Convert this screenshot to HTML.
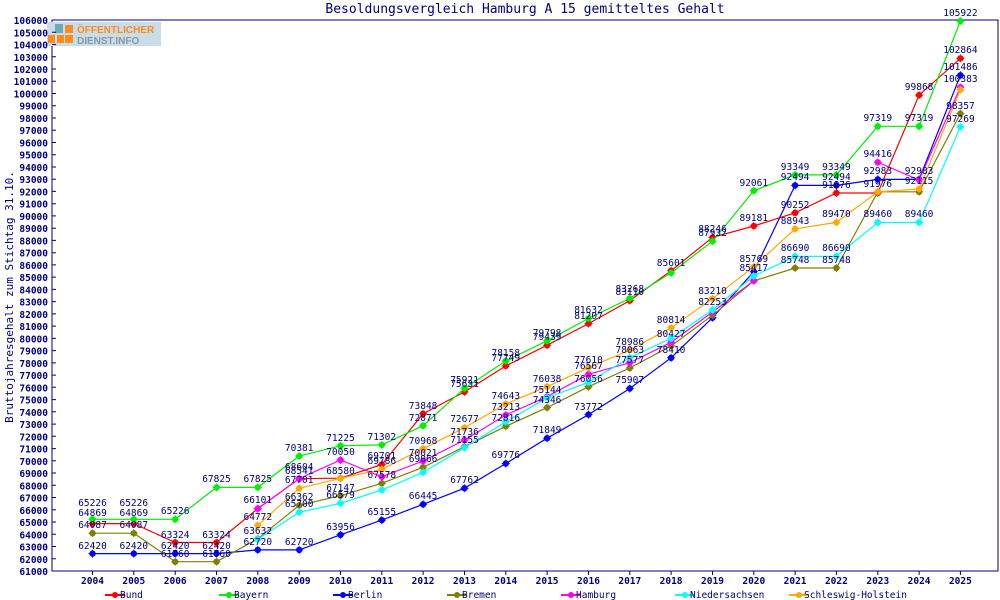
<!DOCTYPE html>
<html><head><meta charset="utf-8"><style>
body{margin:0;background:#fff;}
svg{display:block;font-family:"DejaVu Sans Mono","Liberation Mono",monospace;}
.yl{font-size:9.5px;font-weight:bold;fill:#000080;text-anchor:end}
.xl{font-size:9.5px;font-weight:bold;fill:#000080;text-anchor:middle}
.v{font-size:9.5px;fill:#000080;text-anchor:middle}
.lg{font-size:9.5px;fill:#000080}
polyline{fill:none;stroke-width:1.2}
</style></head><body>
<svg width="1000" height="600" viewBox="0 0 1000 600" xmlns="http://www.w3.org/2000/svg">
<defs>
<marker id="mr" markerWidth="9" markerHeight="9" refX="4.5" refY="4.5" markerUnits="userSpaceOnUse"><path d="M4.5 0L5.7 3L9 4.5L5.7 6L4.5 9L3.3 6L0 4.5L3.3 3Z" fill="#ff0000"/><circle cx="4.5" cy="4.5" r="3.2" fill="#ff0000"/></marker>
<marker id="mg" markerWidth="9" markerHeight="9" refX="4.5" refY="4.5" markerUnits="userSpaceOnUse"><path d="M4.5 0L5.7 3L9 4.5L5.7 6L4.5 9L3.3 6L0 4.5L3.3 3Z" fill="#00ee00"/><circle cx="4.5" cy="4.5" r="3.2" fill="#00ee00"/></marker>
<marker id="mb" markerWidth="9" markerHeight="9" refX="4.5" refY="4.5" markerUnits="userSpaceOnUse"><path d="M4.5 0L5.7 3L9 4.5L5.7 6L4.5 9L3.3 6L0 4.5L3.3 3Z" fill="#0000ff"/><circle cx="4.5" cy="4.5" r="3.2" fill="#0000ff"/></marker>
<marker id="mo" markerWidth="9" markerHeight="9" refX="4.5" refY="4.5" markerUnits="userSpaceOnUse"><path d="M4.5 0L5.7 3L9 4.5L5.7 6L4.5 9L3.3 6L0 4.5L3.3 3Z" fill="#808000"/><circle cx="4.5" cy="4.5" r="3.2" fill="#808000"/></marker>
<marker id="mm" markerWidth="9" markerHeight="9" refX="4.5" refY="4.5" markerUnits="userSpaceOnUse"><path d="M4.5 0L5.7 3L9 4.5L5.7 6L4.5 9L3.3 6L0 4.5L3.3 3Z" fill="#ff00ff"/><circle cx="4.5" cy="4.5" r="3.2" fill="#ff00ff"/></marker>
<marker id="mc" markerWidth="9" markerHeight="9" refX="4.5" refY="4.5" markerUnits="userSpaceOnUse"><path d="M4.5 0L5.7 3L9 4.5L5.7 6L4.5 9L3.3 6L0 4.5L3.3 3Z" fill="#00ffff"/><circle cx="4.5" cy="4.5" r="3.2" fill="#00ffff"/></marker>
<marker id="my" markerWidth="9" markerHeight="9" refX="4.5" refY="4.5" markerUnits="userSpaceOnUse"><path d="M4.5 0L5.7 3L9 4.5L5.7 6L4.5 9L3.3 6L0 4.5L3.3 3Z" fill="#ffaa00"/><circle cx="4.5" cy="4.5" r="3.2" fill="#ffaa00"/></marker>
</defs>
<text x="525" y="13" style="font-size:13px;fill:#000080" text-anchor="middle">Besoldungsvergleich Hamburg A 15 gemitteltes Gehalt</text>
<text transform="translate(13,297) rotate(-90)" style="font-size:11px;fill:#000080" text-anchor="middle">Bruttojahresgehalt zum Stichtag 31.10.</text>
<path d="M52 20H998V571H52Z" fill="none" stroke="#000080" stroke-width="1"/>
<rect x="47" y="22" width="114" height="24" fill="#c9dde8"/>
<rect x="55" y="24" width="8" height="9" fill="#6aaabb"/><rect x="65" y="25" width="8" height="8" fill="#ff8a1e"/><rect x="48" y="35" width="7" height="8" fill="#ff8a1e"/><rect x="57" y="35" width="7" height="8" fill="#ff8a1e"/><rect x="65" y="35" width="8" height="8" fill="#ff8a1e"/>
<text x="77" y="33" style="font-family:'Liberation Sans',sans-serif;font-size:10px;font-weight:bold;fill:#ff8a1e">ÖFFENTLICHER</text>
<text x="77" y="44" style="font-family:'Liberation Sans',sans-serif;font-size:10px;font-weight:bold;fill:#8899a5">DIENST.INFO</text>
<g stroke="#000080" stroke-width="1">
<path d="M52 571h4M52 558.8h4M52 546.5h4M52 534.3h4M52 522h4M52 509.8h4M52 497.5h4M52 485.3h4M52 473h4M52 460.8h4M52 448.6h4M52 436.3h4M52 424.1h4M52 411.8h4M52 399.6h4M52 387.3h4M52 375.1h4M52 362.9h4M52 350.6h4M52 338.4h4M52 326.1h4M52 313.9h4M52 301.6h4M52 289.4h4M52 277.1h4M52 264.9h4M52 252.7h4M52 240.4h4M52 228.2h4M52 215.9h4M52 203.7h4M52 191.4h4M52 179.2h4M52 167h4M52 154.7h4M52 142.5h4M52 130.2h4M52 118h4M52 105.7h4M52 93.5h4M52 81.2h4M52 69h4M52 56.8h4M52 44.5h4M52 32.3h4M52 20h4"/>
<path d="M92.5 571v4M133.8 571v4M175.2 571v4M216.5 571v4M257.8 571v4M299.2 571v4M340.5 571v4M381.8 571v4M423.1 571v4M464.5 571v4M505.8 571v4M547.1 571v4M588.5 571v4M629.8 571v4M671.1 571v4M712.5 571v4M753.8 571v4M795.1 571v4M836.4 571v4M877.8 571v4M919.1 571v4M960.4 571v4"/>
</g>
<g class="yl">
<text x="48" y="575">61000</text><text x="48" y="562.8">62000</text><text x="48" y="550.5">63000</text><text x="48" y="538.3">64000</text><text x="48" y="526">65000</text><text x="48" y="513.8">66000</text><text x="48" y="501.5">67000</text><text x="48" y="489.3">68000</text><text x="48" y="477">69000</text><text x="48" y="464.8">70000</text><text x="48" y="452.6">71000</text><text x="48" y="440.3">72000</text><text x="48" y="428.1">73000</text><text x="48" y="415.8">74000</text><text x="48" y="403.6">75000</text><text x="48" y="391.3">76000</text><text x="48" y="379.1">77000</text><text x="48" y="366.9">78000</text><text x="48" y="354.6">79000</text><text x="48" y="342.4">80000</text><text x="48" y="330.1">81000</text><text x="48" y="317.9">82000</text><text x="48" y="305.6">83000</text><text x="48" y="293.4">84000</text><text x="48" y="281.1">85000</text><text x="48" y="268.9">86000</text><text x="48" y="256.7">87000</text><text x="48" y="244.4">88000</text><text x="48" y="232.2">89000</text><text x="48" y="219.9">90000</text><text x="48" y="207.7">91000</text><text x="48" y="195.4">92000</text><text x="48" y="183.2">93000</text><text x="48" y="171">94000</text><text x="48" y="158.7">95000</text><text x="48" y="146.5">96000</text><text x="48" y="134.2">97000</text><text x="48" y="122">98000</text><text x="48" y="109.7">99000</text><text x="48" y="97.5">100000</text><text x="48" y="85.2">101000</text><text x="48" y="73">102000</text><text x="48" y="60.8">103000</text><text x="48" y="48.5">104000</text><text x="48" y="36.3">105000</text><text x="48" y="24">106000</text>
</g>
<g class="xl">
<text x="92.5" y="584">2004</text><text x="133.8" y="584">2005</text><text x="175.2" y="584">2006</text><text x="216.5" y="584">2007</text><text x="257.8" y="584">2008</text><text x="299.2" y="584">2009</text><text x="340.5" y="584">2010</text><text x="381.8" y="584">2011</text><text x="423.1" y="584">2012</text><text x="464.5" y="584">2013</text><text x="505.8" y="584">2014</text><text x="547.1" y="584">2015</text><text x="588.5" y="584">2016</text><text x="629.8" y="584">2017</text><text x="671.1" y="584">2018</text><text x="712.5" y="584">2019</text><text x="753.8" y="584">2020</text><text x="795.1" y="584">2021</text><text x="836.4" y="584">2022</text><text x="877.8" y="584">2023</text><text x="919.1" y="584">2024</text><text x="960.4" y="584">2025</text>
</g>
<polyline stroke="#ff0000" marker-start="url(#mr)" marker-mid="url(#mr)" marker-end="url(#mr)" points="92.5,523.6 133.8,523.6 175.2,542.5 216.5,542.5 257.8,508.6 299.2,478.7 340.5,478.2 381.8,464.5 423.1,413.7 464.5,391.9 505.8,365.9 547.1,345.2 588.5,323.6 629.8,300.6 671.1,270.7 712.5,237.4 753.8,226 795.1,212.8 836.4,193 877.8,193 919.1,95.1 960.4,58.4"/>
<polyline stroke="#00ee00" marker-start="url(#mg)" marker-mid="url(#mg)" marker-end="url(#mg)" points="92.5,519.3 133.8,519.3 175.2,519.3 216.5,487.4 257.8,487.4 299.2,456.1 340.5,445.8 381.8,444.9 423.1,425.7 464.5,388.3 505.8,360.9 547.1,340.8 588.5,318.4 629.8,298.4 671.1,272.9 712.5,241.2 753.8,190.7 795.1,174.9 836.4,174.9 877.8,126.3 919.1,126.3 960.4,21"/>
<polyline stroke="#0000ff" marker-start="url(#mb)" marker-mid="url(#mb)" marker-end="url(#mb)" points="92.5,553.6 133.8,553.6 175.2,553.6 216.5,553.6 257.8,549.9 299.2,549.9 340.5,534.8 381.8,520.1 423.1,504.3 464.5,488.2 505.8,463.5 547.1,438.2 588.5,414.6 629.8,388.5 671.1,357.8 712.5,317.7 753.8,271.7 795.1,185.4 836.4,185.4 877.8,179.4 919.1,179.4 960.4,75.3"/>
<polyline stroke="#808000" marker-start="url(#mo)" marker-mid="url(#mo)" marker-end="url(#mo)" points="92.5,533.2 133.8,533.2 175.2,561.7 216.5,561.7 257.8,538.8 299.2,505.3 340.5,495.7 381.8,483.3 423.1,467.3 464.5,446.7 505.8,426.3 547.1,407.6 588.5,386.7 629.8,368 671.1,346 712.5,315.3 753.8,280.9 795.1,268 836.4,268 877.8,191.8 919.1,191.8 960.4,113.6"/>
<polyline stroke="#ff00ff" marker-start="url(#mm)" marker-mid="url(#mm)" marker-end="url(#mm)" points="257.8,508.7 299.2,478.7 340.5,460 381.8,476.7 423.1,461 464.5,440 505.8,415 547.1,396.7 588.5,374.3 629.8,362.7 671.1,342.3 712.5,312 753.8,280.7"/>
<polyline stroke="#ff00ff" marker-start="url(#mm)" marker-mid="url(#mm)" marker-end="url(#mm)" points="877.8,162.3 919.1,180 960.4,87.3"/>
<polyline stroke="#00ffff" marker-start="url(#mc)" marker-mid="url(#mc)" marker-end="url(#mc)" points="257.8,539.3 299.2,512.3 340.5,503.3 381.8,490 423.1,472.3 464.5,447.7 505.8,421.7 547.1,397.7 588.5,382.3 629.8,357.7 671.1,338.3 712.5,310 753.8,276 795.1,256.4 836.4,256.4 877.8,222.5 919.1,222.5 960.4,126.9"/>
<polyline stroke="#ffaa00" marker-start="url(#my)" marker-mid="url(#my)" marker-end="url(#my)" points="257.8,525.3 299.2,488.3 340.5,478.3 381.8,469.3 423.1,448.7 464.5,427.7 505.8,404 547.1,386.7 588.5,367.7 629.8,350 671.1,327.7 712.5,298.7 753.8,266.7 795.1,228.9 836.4,222.4 877.8,191.8 919.1,189 960.4,89.7"/>
<g class="v">
<text x="92.5" y="516">64869</text><text x="133.8" y="516">64869</text><text x="175.2" y="538">63324</text><text x="216.5" y="538">63324</text><text x="257.8" y="503">66101</text><text x="299.2" y="474">68541</text><text x="340.5" y="474">68580</text><text x="381.8" y="459">69701</text><text x="423.1" y="409">73848</text><text x="464.5" y="387">75631</text><text x="505.8" y="361">77749</text><text x="547.1" y="340">79439</text><text x="588.5" y="319">81207</text><text x="629.8" y="295">83110</text><text x="671.1" y="266">85601</text><text x="712.5" y="232">88246</text><text x="753.8" y="221">89181</text><text x="795.1" y="208">90252</text><text x="836.4" y="188">91876</text><text x="919.1" y="90">99868</text><text x="960.4" y="53">102864</text>
<text x="92.5" y="506">65226</text><text x="133.8" y="506">65226</text><text x="175.2" y="514">65226</text><text x="216.5" y="482">67825</text><text x="257.8" y="482">67825</text><text x="299.2" y="451">70381</text><text x="340.5" y="441">71225</text><text x="381.8" y="440">71302</text><text x="423.1" y="421">72871</text><text x="464.5" y="383">75921</text><text x="505.8" y="356">78158</text><text x="547.1" y="336">79798</text><text x="588.5" y="313">81632</text><text x="629.8" y="292">83268</text><text x="712.5" y="236">87932</text><text x="753.8" y="186">92061</text><text x="795.1" y="170">93349</text><text x="836.4" y="170">93349</text><text x="877.8" y="121">97319</text><text x="919.1" y="121">97319</text><text x="960.4" y="16">105922</text>
<text x="92.5" y="549">62420</text><text x="133.8" y="549">62420</text><text x="175.2" y="549">62420</text><text x="216.5" y="549">62420</text><text x="257.8" y="545">62720</text><text x="299.2" y="545">62720</text><text x="340.5" y="530">63956</text><text x="381.8" y="515">65155</text><text x="423.1" y="499">66445</text><text x="464.5" y="483">67762</text><text x="505.8" y="458">69776</text><text x="547.1" y="433">71849</text><text x="588.5" y="410">73772</text><text x="629.8" y="383">75907</text><text x="671.1" y="353">78410</text><text x="795.1" y="180">92494</text><text x="836.4" y="180">92494</text><text x="877.8" y="174">92983</text><text x="919.1" y="174">92983</text><text x="960.4" y="70">101486</text>
<text x="92.5" y="528">64087</text><text x="133.8" y="528">64087</text><text x="175.2" y="557">61760</text><text x="216.5" y="557">61760</text><text x="257.8" y="534">63632</text><text x="299.2" y="500">66362</text><text x="340.5" y="491">67147</text><text x="381.8" y="478">67578</text><text x="423.1" y="462">69066</text><text x="505.8" y="421">72816</text><text x="547.1" y="403">74346</text><text x="588.5" y="382">76056</text><text x="629.8" y="363">77577</text><text x="795.1" y="263">85748</text><text x="836.4" y="263">85748</text><text x="960.4" y="109">98357</text>
<text x="299.2" y="470">68604</text><text x="340.5" y="455">70050</text><text x="423.1" y="456">70021</text><text x="464.5" y="435">71736</text><text x="505.8" y="410">73213</text><text x="588.5" y="369">76567</text><text x="671.1" y="337">80427</text><text x="877.8" y="157">94416</text><text x="960.4" y="82">100383</text>
<text x="299.2" y="507">65700</text><text x="340.5" y="498">66579</text><text x="464.5" y="443">71155</text><text x="547.1" y="393">75144</text><text x="629.8" y="353">78063</text><text x="712.5" y="305">82253</text><text x="753.8" y="271">85417</text><text x="795.1" y="251">86690</text><text x="836.4" y="251">86690</text><text x="877.8" y="217">89460</text><text x="919.1" y="217">89460</text><text x="960.4" y="122">97269</text>
<text x="257.8" y="520">64772</text><text x="299.2" y="483">67701</text><text x="381.8" y="464">69786</text><text x="423.1" y="444">70968</text><text x="464.5" y="422">72677</text><text x="505.8" y="399">74643</text><text x="547.1" y="382">76038</text><text x="588.5" y="363">77610</text><text x="629.8" y="345">78986</text><text x="671.1" y="323">80814</text><text x="712.5" y="294">83210</text><text x="753.8" y="262">85769</text><text x="795.1" y="224">88943</text><text x="836.4" y="217">89470</text><text x="877.8" y="187">91976</text><text x="919.1" y="184">92115</text>
</g>
<g>
<path d="M105 595h20" stroke="#ff0000" stroke-width="2"/><circle cx="115" cy="595" r="3" fill="#ff0000"/><text class="lg" x="120" y="598">Bund</text>
<path d="M219 595h20" stroke="#00ee00" stroke-width="2"/><circle cx="229" cy="595" r="3" fill="#00ee00"/><text class="lg" x="234" y="598">Bayern</text>
<path d="M333 595h20" stroke="#0000ff" stroke-width="2"/><circle cx="343" cy="595" r="3" fill="#0000ff"/><text class="lg" x="348" y="598">Berlin</text>
<path d="M447 595h20" stroke="#808000" stroke-width="2"/><circle cx="457" cy="595" r="3" fill="#808000"/><text class="lg" x="462" y="598">Bremen</text>
<path d="M561 595h20" stroke="#ff00ff" stroke-width="2"/><circle cx="571" cy="595" r="3" fill="#ff00ff"/><text class="lg" x="576" y="598">Hamburg</text>
<path d="M675 595h20" stroke="#00ffff" stroke-width="2"/><circle cx="685" cy="595" r="3" fill="#00ffff"/><text class="lg" x="690" y="598">Niedersachsen</text>
<path d="M789 595h20" stroke="#ffaa00" stroke-width="2"/><circle cx="799" cy="595" r="3" fill="#ffaa00"/><text class="lg" x="804" y="598">Schleswig-Holstein</text>
</g>
</svg>
</body></html>
